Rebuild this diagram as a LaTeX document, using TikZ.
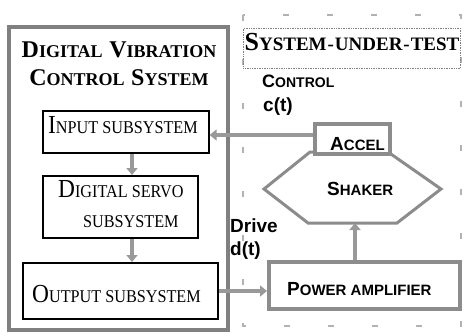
\documentclass[tikz,border=0pt]{standalone}
\usepackage{fontspec}
\setmainfont{Liberation Serif}
\newfontfamily\sansf{Liberation Sans}
\usetikzlibrary{arrows.meta}
\newcommand\fsc[4]{{\fontsize{#1}{#1}\selectfont #3}{\fontsize{#2}{#2}\selectfont #4}}
\newcommand\sqz[1]{\scalebox{0.9}[1]{#1}}
\begin{document}
\begin{tikzpicture}[x=1pt,y=-1pt,
  innerbox/.style={draw=black, line width=1.6pt, inner sep=0pt, anchor=north west, fill=white},
  graybox/.style={draw=black!45, line width=3.5pt, inner sep=0pt, anchor=north west, fill=white},
  arr/.style={draw=black!40, line width=4pt, -{Triangle[width=11pt,length=7pt]}},
  lbl/.style={anchor=base west, inner sep=0pt},
  sanslbl/.style={anchor=base west, inner sep=0pt, font=\sansf\bfseries},
]
\useasboundingbox (0,0) rectangle (466,335);
% sparse dashed frame around system-under-test
\draw[draw=black!30, line width=2.5pt, dash pattern=on 6pt off 38pt] (243,15) rectangle (461,326);
% outer DVCS box
\node[draw=black!50, line width=4pt, minimum width=219, minimum height=303, anchor=north west, inner sep=0pt] (dvcs) at (7,25) {};
\node[anchor=base, inner sep=0pt, font=\bfseries] (t1) at (119,57) {\fsc{24}{18}{D}{IGITAL}\hspace{4pt} \fsc{24}{18}{V}{IBRATION}};
\node[anchor=base, inner sep=0pt, font=\bfseries] (t2) at (119,85) {\fsc{24}{18}{C}{ONTROL}\hspace{4pt} \fsc{24}{18}{S}{YSTEM}};
% inner boxes
\node[innerbox, minimum width=166, minimum height=42] (input) at (42,110) {};
\node[lbl] (inputtxt) at (48,133) {\sqz{\fsc{26}{18}{I}{NPUT SUBSYSTEM}}};
\node[innerbox, minimum width=155, minimum height=62] (servo) at (42,175) {};
\node[lbl] (servotxt1) at (58,197) {\sqz{\fsc{26}{18}{D}{IGITAL SERVO}}};
\node[lbl] (servotxt2) at (83,227) {\sqz{\fsc{18}{18}{}{SUBSYSTEM}}};
\node[innerbox, minimum width=195, minimum height=56] (output) at (22,262) {};
\node[lbl] (outputtxt) at (32,302) {\sqz{\fsc{26}{18}{O}{UTPUT SUBSYSTEM}}};
% system under test title
\node[draw=black!50, densely dotted, line width=0.7pt, minimum width=217, minimum height=40, anchor=north west, inner sep=0pt] (sut) at (243,28) {};
\node[anchor=base, inner sep=0pt, font=\bfseries] (suttxt) at (352,50) {\fsc{26}{19}{S}{YSTEM\kern1pt-\kern1pt UNDER\kern1pt-\kern1pt TEST}};
% labels
\node[sanslbl] (ctrl) at (262,87) {\fsc{18}{14}{C}{ONTROL}};
\node[sanslbl, font=\sansf\bfseries\fontsize{19}{19}\selectfont] (ct) at (263,111) {c(t)};
\node[sanslbl, font=\sansf\bfseries\fontsize{19}{19}\selectfont] (drive) at (230,232) {Drive};
\node[sanslbl, font=\sansf\bfseries\fontsize{19}{19}\selectfont] (dt) at (230,255) {d(t)};
% shaker hexagon
\draw[draw=black!45, line width=3pt, fill=white] (310,152) -- (388,152) -- (441,189) -- (397,223) -- (308,223) -- (264,189) -- cycle;
\node[sanslbl] (shaker) at (327,195) {\fsc{19}{15}{S}{HAKER}};
\coordinate (hexbot) at (355,223);
% accel
\node[graybox, minimum width=75, minimum height=30] (accel) at (313,122) {};
\node[sanslbl] (acceltxt) at (330,150) {\fsc{19}{15}{A}{CCEL}};
% power amplifier
\node[graybox, minimum width=191, minimum height=47] (pa) at (267,260) {};
\node[sanslbl] (patxt) at (287,295) {\fsc{19}{15}{P}{OWER AMPLIFIER}};
% arrows
\coordinate (ax) at (132,0);
\draw[arr] (input.south -| ax) -- (servo.north -| ax);
\draw[arr] (servo.south -| ax) -- (output.north -| ax);
\coordinate (ay) at (0,135);
\draw[arr] (accel.west |- ay) -- (input.east |- ay);
\coordinate (by) at (0,291);
\draw[arr] (output.east |- by) -- (pa.west |- by);
\draw[arr] (pa.north -| hexbot) -- (hexbot);
\end{tikzpicture}
\end{document}
